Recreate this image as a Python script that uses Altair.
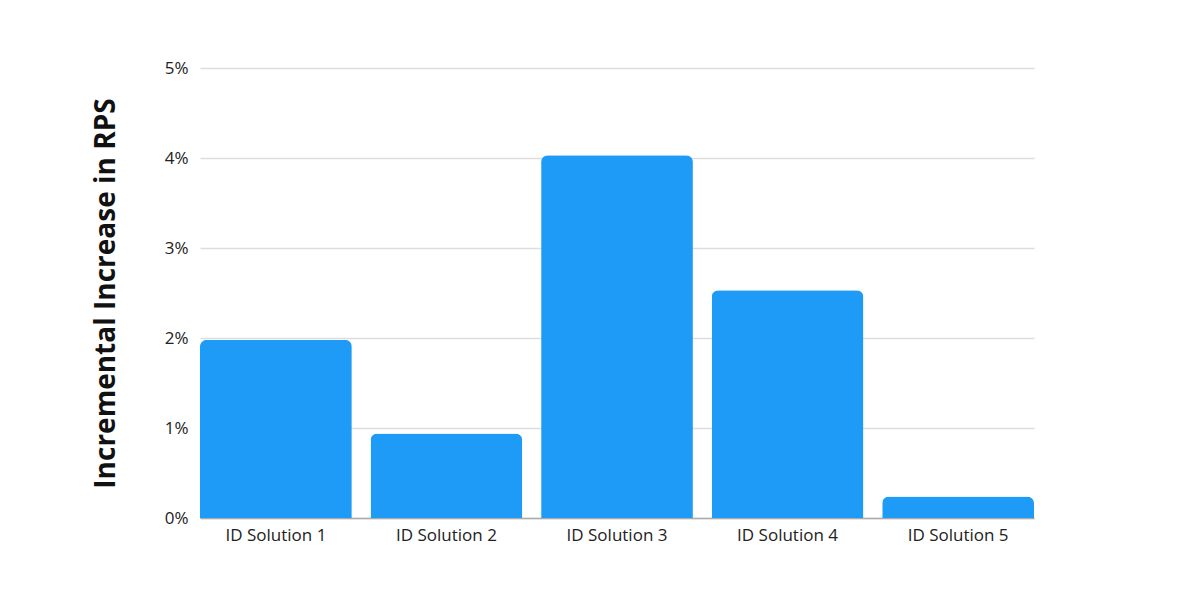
import altair as alt
import pandas as pd

categories = ["ID Solution 1", "ID Solution 2", "ID Solution 3", "ID Solution 4", "ID Solution 5"]
values = [0.0198, 0.0094, 0.0403, 0.0253, 0.0024]

df = pd.DataFrame({"solution": categories, "value": values})

chart = alt.Chart(df).mark_bar(
    color="#1D9BF6", cornerRadiusTopLeft=7, cornerRadiusTopRight=7
).encode(
    x=alt.X("solution:N", sort=categories, title=None,
            scale=alt.Scale(paddingInner=0.11, paddingOuter=0),
            axis=alt.Axis(labelAngle=0, labelFontSize=17, labelColor="#222222",
                          labelFont="Open Sans", labelPadding=9, ticks=False, grid=False,
                          domainColor="#AAAAAA", domainWidth=1.5)),
    y=alt.Y("value:Q", title="Incremental Increase in RPS",
            scale=alt.Scale(domain=[0, 0.05], nice=False),
            axis=alt.Axis(format=".0%", values=[0, 0.01, 0.02, 0.03, 0.04, 0.05],
                          labelFontSize=17, labelColor="#222222", labelFont="Open Sans",
                          labelPadding=12, ticks=False, domain=False,
                          gridColor="#DDDDDD", gridWidth=1.5,
                          titleFont="Open Sans", titleFontSize=28, titleFontWeight="bold",
                          titleColor="#111111", titlePadding=44)),
).properties(
    width=834, height=450,
    background="white",
    autosize=alt.AutoSizeParams(type="none"),
    padding={"left": 192, "top": 60, "right": 150, "bottom": 74},
).configure_view(stroke=None)

chart.save("out.html", embed_options={"renderer": "svg", "actions": False})
